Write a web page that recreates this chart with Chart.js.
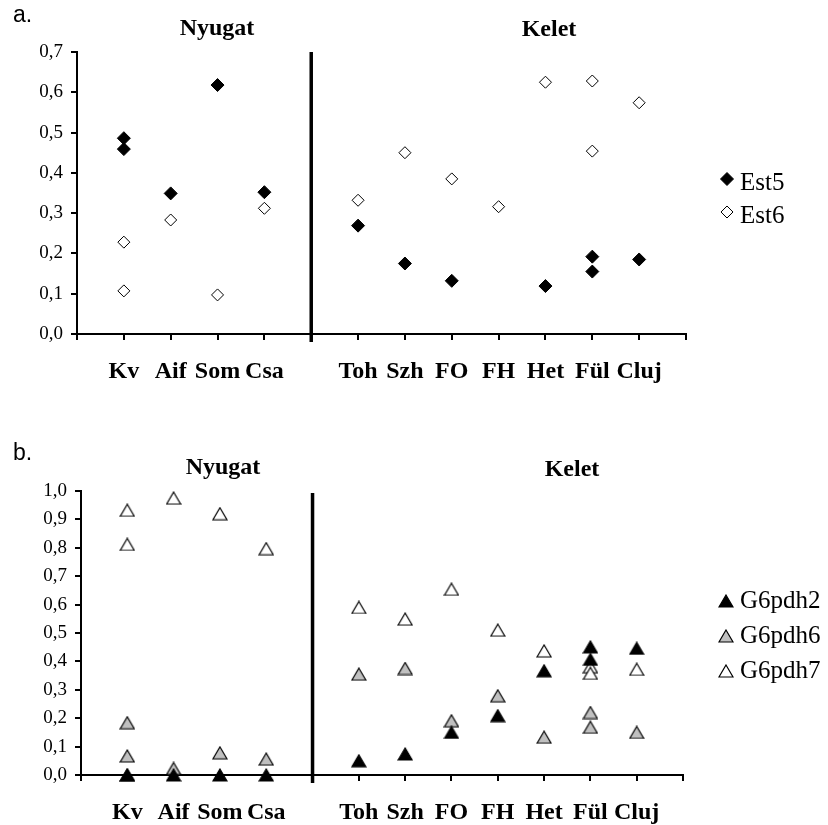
<!DOCTYPE html>
<html>
<head>
<meta charset="utf-8">
<script src="https://cdn.jsdelivr.net/npm/chart.js@4/dist/chart.umd.min.js"></script>
<style>
  html, body { margin: 0; padding: 0; background: #fff; }
  #wrap { position: relative; width: 828px; height: 825px; }
  canvas { position: absolute; left: 0; }
  #chartA { top: 0; }
  #chartB { top: 400px; }
</style>
</head>
<body>
<div id="wrap">
  <canvas id="chartA" width="828" height="400"></canvas>
  <canvas id="chartB" width="828" height="425"></canvas>
</div>
<script>
// Sampling sites along the x axis (empty slots are the gaps / region divider)
const sites = ['', 'Kv', 'Aif', 'Som', 'Csa', '', 'Toh', 'Szh', 'FO', 'FH', 'Het', 'Fül', 'Cluj', ''];
const regionNames = ['Nyugat', 'Kelet'];
const dividerSlot = 5;

// a. Est5 / Est6 allele frequencies
const est5Sites  = ['Kv', 'Kv', 'Aif', 'Som', 'Csa', 'Toh', 'Szh', 'FO', 'Het', 'Fül', 'Fül', 'Cluj'];
const est5Values = [0.486, 0.459, 0.349, 0.618, 0.352, 0.269, 0.175, 0.132, 0.119, 0.192, 0.155, 0.185];
const est6Sites  = ['Kv', 'Kv', 'Aif', 'Som', 'Csa', 'Toh', 'Szh', 'FO', 'FH', 'Het', 'Fül', 'Fül', 'Cluj'];
const est6Values = [0.228, 0.107, 0.283, 0.097, 0.312, 0.332, 0.450, 0.385, 0.316, 0.625, 0.628, 0.454, 0.574];

// b. G6pdh allele frequencies
const g6Sites = ['Kv', 'Kv', 'Aif', 'Som', 'Csa', 'Toh', 'Szh', 'FO', 'FH', 'Het', 'Fül', 'Fül', 'Cluj'];
const g6pdh2Values = [0.000, 0.000, 0.000, 0.000, 0.000, 0.050, 0.074, 0.150, 0.209, 0.367, 0.451, 0.407, 0.446];
const g6pdh6Values = [0.184, 0.067, 0.023, 0.078, 0.056, 0.355, 0.375, 0.191, 0.279, 0.133, 0.220, 0.168, 0.150];
const g6pdh7Values = [0.932, 0.812, 0.975, 0.920, 0.797, 0.590, 0.549, 0.654, 0.510, 0.437, 0.381, 0.358, 0.372];

const yTicksA = { max: 0.7, step: 0.1 };
const yTicksB = { max: 1.0, step: 0.1 };

function toPoints(siteList, values) {
  return siteList.map((s, i) => ({ x: sites.indexOf(s), y: values[i] }));
}

// Triangle marker centred on its bounding box
function triangleMark(fill) {
  const c = document.createElement('canvas');
  c.width = 16; c.height = 14;
  const g = c.getContext('2d');
  g.beginPath();
  g.moveTo(8, 1); g.lineTo(15, 13); g.lineTo(1, 13); g.closePath();
  g.fillStyle = fill; g.fill();
  g.lineWidth = 1.2; g.strokeStyle = '#000'; g.stroke();
  return c;
}

// Divider line, panel captions and side legend
const panelDecor = {
  id: 'panelDecor',
  afterDatasetsDraw(chart, args, opts) {
    const { ctx, chartArea, scales: { x } } = chart;
    ctx.save();
    const px = x.getPixelForValue(opts.dividerAt);
    ctx.strokeStyle = '#000';
    ctx.lineWidth = 3.5;
    ctx.beginPath();
    ctx.moveTo(px, chartArea.top + (opts.dividerTopOffset || 0));
    ctx.lineTo(px, chartArea.bottom + 8);
    ctx.stroke();

    ctx.fillStyle = '#000';
    ctx.textBaseline = 'alphabetic';
    opts.texts.forEach(t => {
      ctx.font = t.font;
      ctx.textAlign = t.align;
      ctx.fillText(t.text, t.x, t.y);
    });

    const lg = opts.legend;
    chart.data.datasets.forEach((ds, i) => {
      const my = lg.markerY + i * lg.gap;
      ctx.fillStyle = ds.backgroundColor;
      ctx.strokeStyle = ds.borderColor;
      ctx.lineWidth = ds.borderWidth;
      Chart.helpers.drawPoint(ctx, {
        pointStyle: ds.pointStyle, radius: ds.pointRadius,
        borderWidth: ds.borderWidth, rotation: 0
      }, lg.markerX, my);
      ctx.fillStyle = '#000';
      ctx.font = lg.font;
      ctx.textAlign = 'left';
      ctx.fillText(ds.label, lg.textX, lg.textY + i * lg.gap);
    });
    ctx.restore();
  }
};

const serif = '"Liberation Serif", "Times New Roman", serif';

function axisCommon() {
  return {
    border: { display: true, color: '#000', width: 2 },
    grid: { drawOnChartArea: false, drawTicks: true, tickLength: 6, color: '#000', lineWidth: 2 }
  };
}

function panelOptions(cfg) {
  return {
    responsive: false,
    animation: false,
    events: [],
    layout: { padding: { left: 0, top: cfg.top, right: cfg.right, bottom: 0 } },
    plugins: {
      legend: { display: false },
      tooltip: { enabled: false },
      panelDecor: cfg.decor
    },
    scales: {
      x: Object.assign(axisCommon(), {
        type: 'linear',
        min: 0,
        max: sites.length - 1,
        afterFit: s => { s.height = cfg.xHeight; },
        ticks: {
          stepSize: 1, autoSkip: false, maxRotation: 0, maxTicksLimit: 30,
          padding: 17, color: '#000',
          font: { family: serif, size: 24, weight: 'bold' },
          callback: v => sites[v] ?? ''
        }
      }),
      y: Object.assign(axisCommon(), {
        min: 0,
        max: cfg.yTicks.max,
        afterFit: s => { s.width = cfg.yWidth; },
        ticks: {
          stepSize: cfg.yTicks.step, padding: 8, color: '#000',
          font: { family: serif, size: 19 },
          callback: v => v.toFixed(1).replace('.', ',')
        }
      })
    }
  };
}

const diamondBase = { showLine: false, pointStyle: 'rectRot', borderColor: '#000', borderWidth: 1, clip: false };

new Chart(document.getElementById('chartA'), {
  type: 'scatter',
  data: {
    datasets: [
      Object.assign({}, diamondBase, { label: 'Est5', data: toPoints(est5Sites, est5Values),
        backgroundColor: '#000', pointRadius: 6.5 }),
      Object.assign({}, diamondBase, { label: 'Est6', data: toPoints(est6Sites, est6Values),
        backgroundColor: '#fff', pointRadius: 6 })
    ]
  },
  options: panelOptions({
    top: 52, right: 142, xHeight: 66, yWidth: 77, yTicks: yTicksA,
    decor: {
      dividerAt: dividerSlot,
      texts: [
        { text: 'a.', x: 13, y: 22, align: 'left', font: '23px "Liberation Sans", Arial, sans-serif' },
        { text: regionNames[0], x: 217, y: 35, align: 'center', font: 'bold 24px ' + serif },
        { text: regionNames[1], x: 549, y: 36, align: 'center', font: 'bold 24px ' + serif }
      ],
      legend: { markerX: 727, markerY: 179, textX: 740, textY: 190, gap: 33, font: '25px ' + serif }
    }
  }),
  plugins: [panelDecor]
});

const triBase = { showLine: false, borderColor: '#000', borderWidth: 1, pointRadius: 7, clip: false };

new Chart(document.getElementById('chartB'), {
  type: 'scatter',
  data: {
    datasets: [
      Object.assign({}, triBase, { label: 'G6pdh2', data: toPoints(g6Sites, g6pdh2Values),
        backgroundColor: '#000', pointStyle: triangleMark('#000') }),
      Object.assign({}, triBase, { label: 'G6pdh6', data: toPoints(g6Sites, g6pdh6Values),
        backgroundColor: '#c0c0c0', pointStyle: triangleMark('#c0c0c0') }),
      Object.assign({}, triBase, { label: 'G6pdh7', data: toPoints(g6Sites, g6pdh7Values),
        backgroundColor: '#fff', pointStyle: triangleMark('#fff') })
    ]
  },
  options: panelOptions({
    top: 91, right: 145, xHeight: 50, yWidth: 81, yTicks: yTicksB,
    decor: {
      dividerAt: dividerSlot,
      dividerTopOffset: 2,
      texts: [
        { text: 'b.', x: 13, y: 60, align: 'left', font: '23px "Liberation Sans", Arial, sans-serif' },
        { text: regionNames[0], x: 223, y: 74, align: 'center', font: 'bold 24px ' + serif },
        { text: regionNames[1], x: 572, y: 76, align: 'center', font: 'bold 24px ' + serif }
      ],
      legend: { markerX: 726, markerY: 201, textX: 740, textY: 208, gap: 35, font: '25px ' + serif }
    }
  }),
  plugins: [panelDecor]
});
</script>
</body>
</html>
